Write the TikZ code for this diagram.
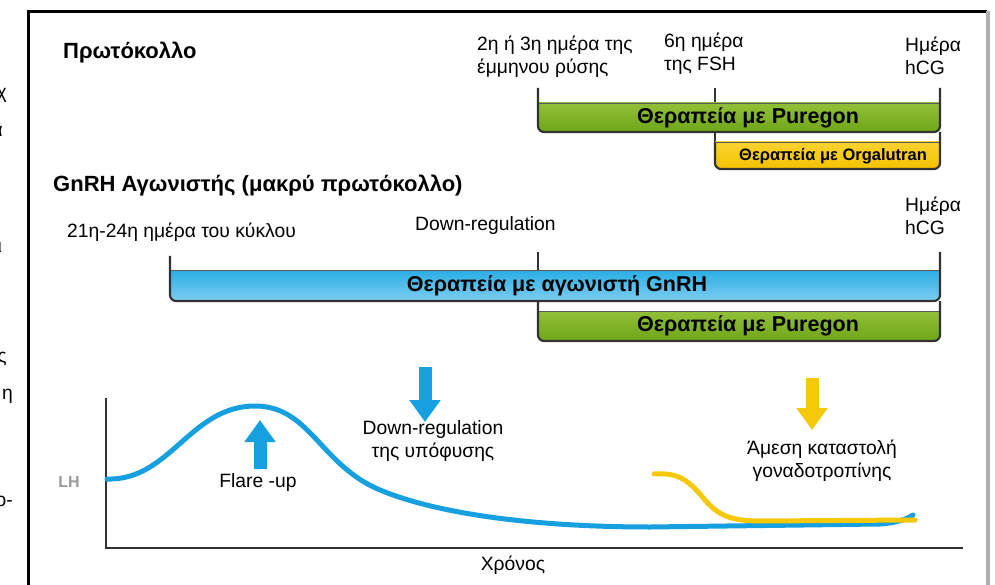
\documentclass[tikz,border=0pt]{standalone}
\usepackage{fontspec}
\setmainfont{Liberation Sans}
\usetikzlibrary{arrows.meta, positioning, calc}

\definecolor{pgreen}{RGB}{112,166,24}
\definecolor{pgreenlight}{RGB}{160,204,70}
\definecolor{gblue}{RGB}{20,166,226}
\definecolor{gbluelight}{RGB}{125,205,240}
\definecolor{ogold}{RGB}{244,194,0}
\definecolor{ogoldlight}{RGB}{252,218,70}
\definecolor{lhblue}{RGB}{22,160,224}
\definecolor{lhyellow}{RGB}{245,200,10}
\definecolor{framegray}{RGB}{175,175,175}
\definecolor{linegray}{RGB}{50,50,50}

\tikzstyle{label} = [font=\fontsize{19.3}{23}\selectfont, align=left, inner sep=0pt]
\tikzstyle{title} = [font=\bfseries\fontsize{22}{26}\selectfont, inner sep=0pt]
\tikzstyle{bartext} = [font=\bfseries\fontsize{21.5}{25}\selectfont, inner sep=0pt]
\tikzstyle{smallbartext} = [font=\bfseries\fontsize{16.5}{20}\selectfont, inner sep=0pt]
\tikzstyle{tick} = [draw=linegray, line width=2pt]
\tikzstyle{barline} = [draw=linegray, line width=2.2pt, rounded corners=6pt]
\tikzstyle{bartop} = [draw=linegray!80, line width=0.8pt]
\tikzstyle{greenbar} = [top color=pgreenlight, bottom color=pgreen, rounded corners=6pt]
\tikzstyle{bluebar} = [top color=gblue, bottom color=gbluelight, rounded corners=6pt]
\tikzstyle{goldbar} = [top color=ogoldlight, bottom color=ogold, rounded corners=6pt]
\tikzstyle{curve} = [line width=5pt, line cap=round]
\tikzstyle{blockarrow} = [line width=13pt, -{Triangle[width=30pt,length=22pt]}]
\tikzstyle{axis} = [draw=linegray, line width=2pt]

\begin{document}
\begin{tikzpicture}[x=1pt, y=-1pt]
\useasboundingbox (0,0) rectangle (995,585);

% cut-off text at the left border
\begin{scope}
\clip (0,0) rectangle (24,585);
\node [label, anchor=base east] (cut1) at (7,99) {χ};
\node [label, anchor=base east] (cut2) at (3,137) {α};
\node [label, anchor=base east] (cut3) at (2,253) {ι};
\node [label, anchor=base east] (cut4) at (7,362) {ς};
\node [label, anchor=base east] (cut5) at (13,399) {η};
\node [label, anchor=base east] (cut6) at (13,506) {ο-};
\end{scope}

% frame
\draw [line width=3pt] (28,585) -- (28,12) -- (987,12);
\draw [framegray, line width=4pt] (988,11) -- (988,585);

% protocol with antagonist
\node [title, anchor=base west] (protocol) at (63,59) {Πρωτόκολλο};
\node [label, anchor=base west] (menses) at (477,74) {2η ή 3η ημέρα της\\έμμηνου ρύσης};
\node [label, anchor=base west] (fsh) at (664,71) {6η ημέρα\\της FSH};
\node [label, anchor=base west] (hcg1) at (905,75) {Ημέρα\\hCG};

\coordinate (t1) at (538,88);
\coordinate (t2) at (715,88);
\coordinate (t3) at (940,88);

\draw [tick] (t2) -- (715,142);
\begin{scope}
\clip (538,103) rectangle (940,140);
\shade [greenbar] (538,90) rectangle (940,132);
\end{scope}
\begin{scope}
\clip (715,142) rectangle (940,180);
\shade [goldbar] (715,130) rectangle (940,169);
\end{scope}
\draw [bartop] (538,103) -- (940,103);
\draw [bartop] (715,142) -- (940,142);
\draw [barline] (t1) -- (538,132) -- (940,132) -- (t3);
\draw [barline] (715,142) -- (715,169) -- (940,169) -- (940,132);
\node [bartext] (pur1) at (748,117.5) {Θεραπεία με Puregon};
\node [smallbartext] (orga) at (833,156) {Θεραπεία με Orgalutran};

% long agonist protocol
\node [title, anchor=base west] (gnrh) at (53,192) {GnRH Αγωνιστής (μακρύ πρωτόκολλο)};
\node [label, anchor=base west] (cycle) at (67,238) {21η-24η ημέρα του κύκλου};
\node [label, anchor=base west] (downreg) at (415,231) {Down-regulation};
\node [label, anchor=base west] (hcg2) at (905,235) {Ημέρα\\hCG};

\coordinate (s1) at (170,256);
\coordinate (s2) at (538,252);
\coordinate (s3) at (940,252);

\draw [tick] (s2) -- (538,311);
\begin{scope}
\clip (170,270) rectangle (940,310);
\shade [bluebar] (170,262) rectangle (940,301);
\end{scope}
\begin{scope}
\clip (538,311) rectangle (940,350);
\shade [greenbar] (538,298) rectangle (940,341);
\end{scope}
\draw [bartop] (170,270) -- (940,270);
\draw [bartop] (538,311) -- (940,311);
\draw [barline] (s1) -- (170,301) -- (940,301) -- (s3);
\draw [barline] (538,301) -- (538,341) -- (940,341) -- (940,301);
\node [bartext] (agon) at (557,285.5) {Θεραπεία με αγωνιστή GnRH};
\node [bartext] (pur2) at (748,326) {Θεραπεία με Puregon};

% LH course
\draw [axis] (106,398) -- (106,548) -- (963,548);
\node [font=\bfseries\fontsize{16}{19}\selectfont, text=black!40, inner sep=0pt] (lh) at (69,482) {LH};
\node [label] (time) at (513,565) {Χρόνος};

\draw [curve, lhblue] (107,479) .. controls (170,481) and (190,406) .. (255,406)
  .. controls (310,406) and (320,465) .. (380,490)
  .. controls (440,515) and (540,527) .. (650,527)
  -- (880,524) .. controls (895,523) and (905,520) .. (913,515);
\draw [curve, lhyellow] (654,474) .. controls (680,472) and (690,482) .. (705,500)
  .. controls (718,515) and (730,521) .. (760,521) -- (915,520);

\draw [blockarrow, lhblue] (260,469) -- (260,420);
\draw [blockarrow, lhblue] (425,367) -- (425,422);
\draw [blockarrow, lhyellow] (812,378) -- (812,430);

\node [label] (flare) at (258,483) {Flare -up};
\node [label, align=center] (pit) at (433,441) {Down-regulation\\της υπόφυσης};
\node [label, align=center] (supp) at (822,461) {Άμεση καταστολή\\γοναδοτροπίνης};
\end{tikzpicture}
\end{document}
